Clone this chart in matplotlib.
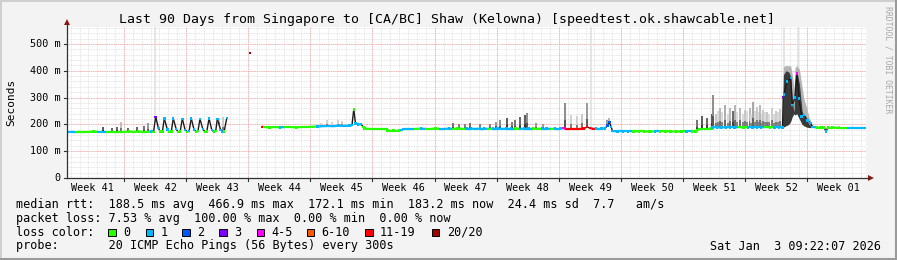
import numpy as np
import matplotlib
matplotlib.use("Agg")
import matplotlib.pyplot as plt
import matplotlib.transforms as mtransforms
from matplotlib.patches import Polygon
from matplotlib.lines import Line2D

W, H = 897, 260
MONO = "DejaVu Sans Mono"

title = "Last 90 Days from Singapore to [CA/BC] Shaw (Kelowna) [speedtest.ok.shawcable.net]"
week_labels = ["Week 41", "Week 42", "Week 43", "Week 44", "Week 45", "Week 46", "Week 47",
               "Week 48", "Week 49", "Week 50", "Week 51", "Week 52", "Week 01"]
first_boundary = 6.41   # day of the first week boundary after the start of the graph
y_ticks = [0, 100, 200, 300, 400, 500]
y_tick_labels = ["0", "100 m", "200 m", "300 m", "400 m", "500 m"]

loss_names = ["0", "1", "2", "3", "4-5", "6-10", "11-19", "20/20"]
loss_colors = ["#26ff00", "#00b8ff", "#0059ff", "#7e00ff", "#ff00ff", "#ff5500", "#ff0000", "#a10000"]

# median rtt (ms) before the data gap
seg1_days = [0.0, 0.5, 1.0, 1.5, 2.0, 2.5, 3.0, 3.5, 4.0, 4.5, 5.0, 5.5, 6.0, 6.5, 7.0, 7.5, 8.0, 8.5, 9.0, 9.5,
             9.75, 9.99, 10.3, 10.5, 10.75, 10.96, 11.3, 11.5, 11.75, 11.97, 12.3, 12.5, 12.75, 12.99, 13.3,
             13.55, 13.75, 14.0, 14.3, 14.55, 14.75, 14.98, 15.3, 15.55, 15.75, 16.0, 16.3, 16.55, 16.75,
             16.93, 17.3, 17.5, 17.7, 18.0]
seg1_rtt = [172, 172, 171, 172, 172, 172, 173, 172, 172, 172, 172, 171, 172, 172, 174, 172, 173, 172, 172, 173,
            172, 228, 186, 173, 174, 222, 181, 172, 174, 222, 182, 172, 174, 221, 180,
            172, 175, 222, 181, 172, 175, 220, 182, 172, 174, 222, 180, 172, 175,
            220, 180, 172, 173, 224]
seg1_loss = [1, 1, 0, 0, 0, 0, 0, 1, 1, 0, 0, 0, 0, 0, 0, 0, 0, 0, 0, 1,
             0, 3, 1, 0, 0, 1, 1, 0, 0, 1, 1, 0, 0, 1, 1,
             0, 1, 1, 1, 0, 0, 1, 1, 0, 0, 1, 1, 0, 0,
             1, 1, 1, 0, 1]

# median rtt (ms) after the data gap
seg2_days = [21.96, 22.2, 22.8, 23.4, 24.0, 24.6, 25.2, 25.8, 26.4, 27.0, 27.6, 28.2, 28.8, 29.4, 30.0, 30.6,
             31.2, 31.8, 32.1, 32.3, 32.5, 32.8, 33.1, 33.4, 33.5, 34.2, 34.9, 35.6, 36.0, 36.1, 36.8, 37.4,
             37.7, 37.85,
             38.5, 39.2, 39.9, 40.5, 41.0, 41.5, 42.0, 42.5, 43.0, 43.5, 44.0, 44.5, 45.0, 45.5, 46.0, 46.5,
             47.0, 47.5, 48.0, 48.5, 49.0, 49.5, 50.0, 50.5, 51.0, 51.5, 52.0, 52.5, 53.0, 53.5, 54.0, 54.5,
             55.0, 55.5,
             55.9, 56.2, 56.7, 57.2, 57.7, 58.2, 58.6, 58.9, 59.3, 59.6, 60.2, 60.6, 60.9, 61.1, 61.3, 61.45,
             62.0, 62.6, 63.2, 63.8, 64.4, 65.0, 65.6, 66.2, 66.8, 67.4, 68.0, 68.6, 69.2, 69.8, 70.4, 70.8,
             71.0, 71.2, 71.7, 72.2, 72.6,
             72.7, 73.2, 73.7, 74.2, 74.7, 75.2, 75.7, 76.2, 76.7, 77.2, 77.7, 78.2, 78.7, 79.2, 79.7, 80.2,
             80.6,
             80.68, 80.76, 81.1, 81.52, 81.71, 82.0, 82.2, 82.46, 82.73, 83.02, 83.4, 83.77, 83.96,
             84.5, 85.0, 85.3, 85.49, 85.7, 86.2, 86.8, 87.4, 88.0, 88.6, 89.2, 89.9]
seg2_rtt = [191, 190, 189, 190, 189, 190, 190, 189, 190, 190, 191, 192, 193, 194, 193, 195,
            194, 195, 197, 256, 203, 199, 201, 190, 184, 183, 183, 183, 183, 177, 177, 177,
            178, 183,
            183, 183, 184, 183, 183, 184, 183, 183, 184, 183, 184, 183, 184, 184, 183, 184,
            184, 183, 184, 184, 183, 184, 184, 184, 183, 184, 184, 184, 183, 184, 184, 183,
            184, 184,
            186, 183, 183, 183, 183, 184, 190, 186, 183, 184, 184, 185, 196, 208, 190, 175,
            174, 174, 174, 174, 174, 174, 173, 174, 174, 174, 174, 173, 174, 174, 174, 174,
            178, 183, 183, 183, 184,
            189, 189, 188, 189, 189, 189, 190, 189, 189, 189, 189, 189, 190, 189, 189, 189,
            189,
            303, 312, 360, 372, 272, 300, 390, 297, 229, 235, 215, 204, 191,
            188, 188, 188, 173, 188, 188, 187, 186, 186, 187, 187, 187]
seg2_loss = [6, 0, 0, 0, 1, 0, 0, 0, 0, 0, 0, 1, 1, 1, 1, 1,
             1, 1, 1, 0, 1, 1, 1, 0, 0, 0, 0, 0, 0, 0, 0, 0,
             1, 1,
             1, 0, 1, 0, 0, 0, 1, 1, 1, 0, 0, 0, 1, 1, 1, 1,
             1, 0, 1, 1, 1, 1, 1, 0, 1, 1, 1, 0, 0, 1, 1, 0,
             1, 1,
             4, 6, 6, 6, 6, 6, 6, 6, 6, 1, 1, 1, 2, 2, 1, 1,
             1, 1, 1, 0, 0, 0, 0, 1, 0, 0, 0, 0, 0, 1, 0, 0,
             0, 0, 0, 0, 0,
             1, 1, 1, 1, 1, 1, 0, 0, 1, 1, 1, 1, 0, 0, 1, 1,
             1,
             3, 1, 1, 1, 1, 1, 4, 1, 1, 1, 1, 1, 1,
             0, 0, 0, 1, 0, 0, 0, 0, 1, 1, 1, 1]

# smoke spikes: day, top (ms), grey level
smoke_days = [4.05, 5.07, 5.63, 6.05, 6.87, 7.88, 8.67, 9.12, 17.1, 17.6,
              28.6, 29.3, 29.9, 30.5, 31.0,
              43.48, 44.2, 44.83, 45.39, 46.5, 47.65, 48.3, 48.8, 49.56, 50.12, 50.46, 51.0, 51.6, 51.8,
              52.8, 53.6,
              56.1, 56.8, 57.4, 58.0, 58.6, 60.8, 61.1,
              71.0, 71.5, 72.1, 72.6,
              72.76, 73.1, 73.3, 73.56, 73.8, 74.1, 74.4, 74.7, 75.0, 75.24, 75.5, 75.8, 76.1, 76.36, 76.6,
              76.9, 77.1, 77.27, 77.5, 77.7, 77.9, 78.06, 78.25, 78.4, 78.6, 78.85, 79.1, 79.4, 79.6, 79.86,
              80.1, 80.3,
              84.8, 86.0, 87.0]
smoke_hi = [190, 185, 190, 210, 185, 192, 195, 205, 222, 226,
            205, 215, 210, 218, 212,
            205, 200, 200, 205, 203, 200, 210, 215, 224, 210, 216, 228, 235, 243,
            205, 200,
            279, 235, 230, 240, 280, 216, 222,
            215, 230, 225, 240,
            310, 240, 250, 261, 245, 272, 240, 261, 250, 272, 245, 261, 240, 255, 250,
            261, 240, 285, 250, 265, 245, 272, 240, 254, 245, 247, 240, 262, 240, 250,
            245, 258,
            195, 192, 193]
smoke_grey = [0.35, 0.4, 0.4, 0.75, 0.4, 0.4, 0.45, 0.6, 0.8, 0.8,
              0.82, 0.82, 0.82, 0.82, 0.82,
              0.45, 0.5, 0.5, 0.45, 0.5, 0.5, 0.6, 0.55, 0.35, 0.5, 0.45, 0.4, 0.35, 0.55,
              0.6, 0.6,
              0.55, 0.82, 0.82, 0.78, 0.6, 0.6, 0.7,
              0.45, 0.35, 0.4, 0.35,
              0.55, 0.78, 0.85, 0.72, 0.85, 0.68, 0.85, 0.72, 0.4, 0.7, 0.85, 0.72, 0.85, 0.78, 0.85,
              0.72, 0.85, 0.65, 0.85, 0.78, 0.85, 0.72, 0.85, 0.78, 0.85, 0.78, 0.85, 0.8, 0.85, 0.8,
              0.85, 0.8,
              0.7, 0.7, 0.75]

# smoke reaching the top of the graph
tall_days = [9.9, 59.0, 80.8, 82.3]

# smoke envelope of the late December congestion
peak_days = [80.6, 80.7, 81.0, 81.3, 81.5, 81.7, 81.9, 82.0, 82.2, 82.5, 82.8, 83.0, 83.3, 83.6, 84.0]
peak_lo = [188, 190, 195, 200, 210, 230, 240, 235, 240, 220, 200, 195, 190, 188, 188]
peak_core = [220, 385, 400, 395, 380, 280, 245, 360, 400, 350, 250, 230, 215, 200, 190]
peak_hi = [250, 415, 420, 418, 420, 385, 330, 410, 420, 405, 340, 295, 265, 225, 195]

stray_days = [20.6]
stray_rtt = [466]

fig = plt.figure(figsize=(W / 100, H / 100), dpi=100)
fig.patch.set_facecolor("#f3f3f3")

# plot area in pixels: x 67..866, y 27..178
ax = fig.add_axes([67 / W, 1 - 178 / H, (866 - 67) / W, (178 - 27) / H])
ax.set_facecolor("white")
ax.set_xlim(0, 90)
ax.set_ylim(0, 563)
ax.set_xticks([])
ax.set_yticks([])
for s in ax.spines.values():
    s.set_visible(False)

dot = (0, (1, 1))
# minor grid
for d in np.arange(first_boundary % 1, 90, 1.0):
    ax.axvline(d, color="#dcdcdc", lw=0.6, ls=dot, zorder=0)
for v in np.arange(20, 563, 20):
    ax.axhline(v, color="#dcdcdc", lw=0.6, ls=dot, zorder=0)
# major grid
boundaries = np.arange(first_boundary - 7, 90, 7.0)
boundaries = boundaries[boundaries > 0]
for d in boundaries:
    ax.axvline(d, color="#f4a8a8", lw=0.65, ls=dot, zorder=1)
for v in y_ticks[1:]:
    ax.axhline(v, color="#f4a8a8", lw=0.65, ls=dot, zorder=1)

# smoke
all_days = seg1_days + seg2_days
all_rtt = seg1_rtt + seg2_rtt
for d in tall_days:
    ax.vlines(d, np.interp(d, all_days, all_rtt), 563, color="#e0e0e0", lw=1.2, zorder=2)
for d, hi, g in zip(smoke_days, smoke_hi, smoke_grey):
    base = np.interp(d, all_days, all_rtt)
    ax.vlines(d, base, hi, color=str(g), lw=1.4, zorder=2)
    ax.vlines(d, base, base + (hi - base) * 0.35, color=str(g * 0.6), lw=1.4, zorder=2)
ax.fill_between(peak_days, peak_lo, peak_hi, color="#b4b4b4", lw=0, zorder=2)
ax.fill_between(peak_days, peak_lo, peak_core, color="#3a3a3a", lw=0, zorder=2)


def draw_median(days, rtt, loss):
    for i in range(len(days) - 1):
        x = [days[i], days[i + 1]]
        y = [rtt[i], rtt[i + 1]]
        if abs(rtt[i + 1] - rtt[i]) < 4:
            ax.plot(x, y, color=loss_colors[loss[i]], lw=1.6, solid_capstyle="butt", zorder=4)
        else:
            ax.plot(x, y, color="#1a1a1a", lw=1.0, zorder=3)
    ax.scatter(days, rtt, s=3, marker="s", c=[loss_colors[k] for k in loss], linewidths=0, zorder=5)


draw_median(seg1_days, seg1_rtt, seg1_loss)
draw_median(seg2_days, seg2_rtt, seg2_loss)
ax.scatter(stray_days, stray_rtt, s=3, marker="s", color="#a10000", linewidths=0, zorder=5)

# axes with arrows
axis_c = "#303030"
arrow_c = "#8b1a1a"
fig.add_artist(Line2D([67 / W, 869 / W], [1 - 178 / H] * 2, color=axis_c, lw=0.9))
fig.add_artist(Line2D([67 / W] * 2, [1 - 178 / H, 1 - 24 / H], color=axis_c, lw=0.9))
fig.add_artist(Polygon([[868 / W, 1 - 175 / H], [868 / W, 1 - 181 / H], [874 / W, 1 - 178 / H]],
                       closed=True, color=arrow_c, lw=0))
fig.add_artist(Polygon([[64 / W, 1 - 25 / H], [70 / W, 1 - 25 / H], [67 / W, 1 - 19 / H]],
                       closed=True, color=arrow_c, lw=0))

xfig = mtransforms.blended_transform_factory(ax.transData, fig.transFigure)
yfig = mtransforms.blended_transform_factory(fig.transFigure, ax.transData)
for d in boundaries:
    ax.plot([d, d], [1 - 178 / H, 1 - 181 / H], transform=xfig, color=axis_c, lw=0.8, clip_on=False)
for v in y_ticks:
    ax.plot([64 / W, 67 / W], [v, v], transform=yfig, color=axis_c, lw=0.8, clip_on=False)

# tick labels
for v, lab in zip(y_ticks, y_tick_labels):
    ax.text(60.5 / W, v, lab, transform=yfig, ha="right", va="center", fontsize=7.3, family=MONO)
for k, lab in enumerate(week_labels):
    ax.text(first_boundary - 3.5 + 7 * k, 1 - 188 / H, lab, transform=xfig,
            ha="center", va="center", fontsize=7.3, family=MONO, clip_on=False)

fig.text(446.5 / W, 1 - 19 / H, title, ha="center", va="center", fontsize=9.5, family=MONO)
fig.text(11 / W, 1 - 102 / H, "Seconds", rotation=90, ha="center", va="center", fontsize=8, family=MONO)
fig.text(888 / W, 1 - 60 / H, "RRDTOOL / TOBI OETIKER", rotation=270, ha="center", va="center",
         fontsize=5.9, family=MONO, color="#a8a8a8")

# legend
lx = 16 / W
fig.text(lx, 1 - 204.3 / H,
         "median rtt:  188.5 ms avg  466.9 ms max  172.1 ms min  183.2 ms now  24.4 ms sd  7.7   am/s",
         ha="left", va="center", fontsize=8.5, family=MONO)
fig.text(lx, 1 - 218.3 / H,
         "packet loss: 7.53 % avg  100.00 % max  0.00 % min  0.00 % now",
         ha="left", va="center", fontsize=8.5, family=MONO)
fig.text(lx, 1 - 232.3 / H, "loss color:", ha="left", va="center", fontsize=8.5, family=MONO)
box_px = [108.3, 145.7, 182.3, 219.0, 256.7, 306.7, 365.0, 431.7]
for bx, name, col in zip(box_px, loss_names, loss_colors):
    fig.add_artist(plt.Rectangle((bx / W, 1 - 236 / H), 7.5 / W, 7.5 / H, facecolor=col,
                                 edgecolor="black", lw=0.7))
    fig.text((bx + 15) / W, 1 - 232.3 / H, name, ha="left", va="center", fontsize=8.5, family=MONO)
fig.text(lx, 1 - 246 / H, "probe:       20 ICMP Echo Pings (56 Bytes) every 300s",
         ha="left", va="center", fontsize=8.5, family=MONO)
fig.text(881 / W, 1 - 246 / H, "Sat Jan  3 09:22:07 2026", ha="right", va="center",
         fontsize=8.5, family=MONO)

# frame
fig.add_artist(Line2D([0, 1], [1 - 0.5 / H] * 2, color="#cfcfcf", lw=1.4))
fig.add_artist(Line2D([0.5 / W] * 2, [0, 1], color="#cfcfcf", lw=1.4))
fig.add_artist(Line2D([0, 1], [1.2 / H] * 2, color="#9a9a9a", lw=2.2))
fig.add_artist(Line2D([1 - 1.2 / W] * 2, [0, 1], color="#9a9a9a", lw=2.2))

fig.savefig("out.png", dpi=100, facecolor=fig.get_facecolor())
